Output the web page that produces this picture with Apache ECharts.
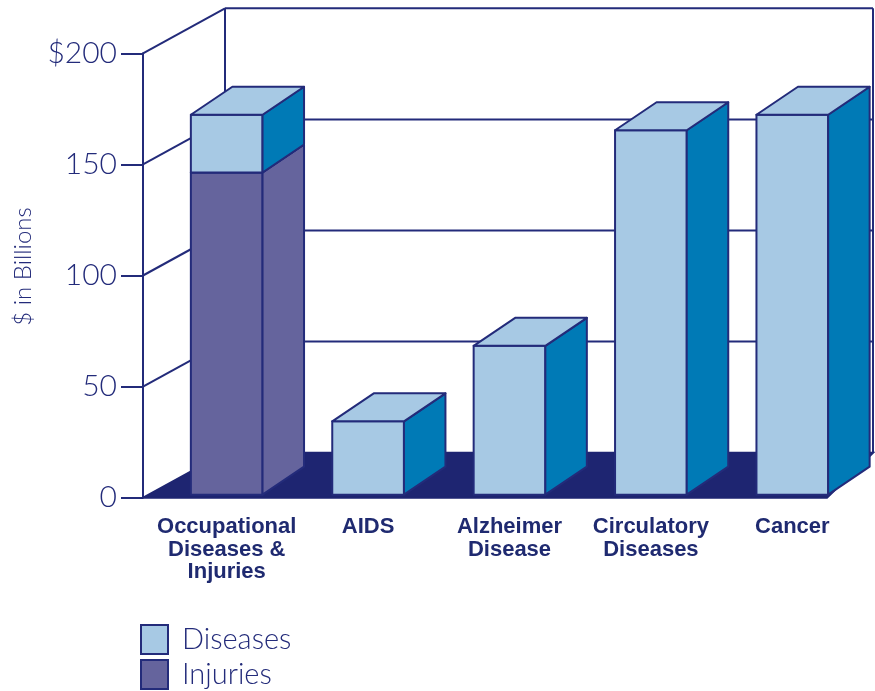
<!DOCTYPE html>
<html><head><meta charset="utf-8">
<script src="https://cdn.jsdelivr.net/npm/echarts@6/dist/echarts.min.js"></script>
<style>html,body{margin:0;padding:0;background:#fff}#c{width:875px;height:691px}</style>
</head><body><div id="c"></div>
<script>
// ---- data ----
const categories = ['Occupational\nDiseases &\nInjuries', 'AIDS', 'Alzheimer\nDisease', 'Circulatory\nDiseases', 'Cancer'];
const injuries = [145, 0, 0, 0, 0];
const diseases = [26, 33, 67, 164, 171];
const yTicks = [0, 50, 100, 150, 200];
const yTickLabels = ['0', '50', '100', '150', '$200'];
const seriesNames = ['Diseases', 'Injuries'];

// ---- styles ----
const NAVY = '#232b7a', FLOOR = '#1e2571', LIGHT = '#a7c9e4', SIDE = '#007ab6', PURPLE = '#65649d';
const DX = 41.5, DY = -28, LIFT = 3, WALL_DX = 82, WALL_DY = -45, AXIS_OFFSET = 13;

function makeBar(baseArr, front, side) {
  return function (params, api) {
    const i = api.value(0), v = api.value(1);
    if (!v) return;
    const base = baseArr[i];
    const p0 = api.coord([i, base]), p1 = api.coord([i, base + v]);
    const w = api.size([1, 0])[0] * 0.507;
    const xl = p0[0] - w / 2, xr = p0[0] + w / 2, yb = p0[1] - LIFT, yt = p1[1] - LIFT;
    const st = c => ({ fill: c, stroke: NAVY, lineWidth: 2, lineJoin: 'round' });
    return {
      type: 'group', children: [
        { type: 'polygon', shape: { points: [[xl, yt], [xr, yt], [xr, yb], [xl, yb]] }, style: st(front) },
        { type: 'polygon', shape: { points: [[xr, yt], [xr + DX, yt + DY], [xr + DX, yb + DY], [xr, yb]] }, style: st(side) },
        { type: 'polygon', shape: { points: [[xl, yt], [xl + DX, yt + DY], [xr + DX, yt + DY], [xr, yt]] }, style: st(front) }
      ]
    };
  };
}

function renderWalls(params, api) {
  const cs = params.coordSys;
  const fx = cs.x - AXIS_OFFSET;
  const bx = fx + WALL_DX;
  const bxr = cs.x + cs.width + 10;
  const y = v => api.coord([0, v])[1];
  const y0 = y(0);
  const ls = { stroke: NAVY, lineWidth: 2, fill: null };
  const children = [];
  children.push({ type: 'polygon', shape: { points: [[fx, y0], [bxr - 46, y0], [bxr, y0 + WALL_DY], [bx, y0 + WALL_DY]] },
    style: { fill: FLOOR, stroke: FLOOR, lineWidth: 2 } });
  yTicks.forEach(t => {
    if (t === 0) return;
    const yy = y(t);
    children.push({ type: 'line', shape: { x1: fx, y1: yy, x2: bx, y2: yy + WALL_DY }, style: ls });
    children.push({ type: 'line', shape: { x1: bx, y1: yy + WALL_DY, x2: bxr, y2: yy + WALL_DY }, style: ls });
  });
  const top = y(200) + WALL_DY;
  children.push({ type: 'line', shape: { x1: bx, y1: top, x2: bx, y2: y0 + WALL_DY }, style: ls });
  children.push({ type: 'line', shape: { x1: bxr, y1: top, x2: bxr, y2: y0 + WALL_DY }, style: ls });
  return { type: 'group', children };
}

const chart = echarts.init(document.getElementById('c'), null, { renderer: 'canvas' });
chart.setOption({
  animation: false,
  backgroundColor: '#fff',
  grid: { left: 156, top: 53.3, width: 707, bottom: 193.3, containLabel: false, outerBoundsMode: 'none' },
  legend: {
    orient: 'vertical', left: 140, top: 624, padding: 0, itemWidth: 27, itemHeight: 29, itemGap: 4, icon: 'rect',
    data: seriesNames,
    textStyle: { fontFamily: 'Lato', fontWeight: 300, fontSize: 29, color: NAVY, padding: [0, 0, 0, 9] }
  },
  xAxis: {
    type: 'category', data: categories,
    axisLine: { show: false }, axisTick: { show: false }, splitLine: { show: false },
    axisLabel: { interval: 0, margin: 18, fontFamily: 'Liberation Sans', fontWeight: 'bold', fontSize: 22, lineHeight: 22.5, color: '#1f2a70' }
  },
  yAxis: {
    type: 'value', min: 0, max: 200, interval: 50, offset: AXIS_OFFSET,
    name: '$ in Billions', nameLocation: 'middle', nameRotate: 90, nameGap: 108,
    nameTextStyle: { fontFamily: 'Lato', fontWeight: 300, fontSize: 24, color: NAVY, padding: [0, 0, 0, 18] },
    axisLine: { show: true, lineStyle: { color: NAVY, width: 2 } },
    axisTick: { show: true, length: 22, lineStyle: { color: NAVY, width: 2 } },
    splitLine: { show: false },
    axisLabel: { margin: 26, fontFamily: 'Lato', fontWeight: 300, fontSize: 30, color: NAVY,
      formatter: v => yTickLabels[yTicks.indexOf(v)] }
  },
  series: [
    { type: 'custom', name: 'walls', silent: true, renderItem: renderWalls, data: [[0, 0]], clip: false, z: 1 },
    { type: 'custom', name: 'Injuries', renderItem: makeBar(injuries.map(() => 0), PURPLE, PURPLE),
      itemStyle: { color: PURPLE, borderColor: NAVY, borderWidth: 2 },
      data: injuries.map((v, i) => [i, v]), encode: { x: 0, y: 1 }, clip: false, z: 2 },
    { type: 'custom', name: 'Diseases', renderItem: makeBar(injuries, LIGHT, SIDE),
      itemStyle: { color: LIGHT, borderColor: NAVY, borderWidth: 2 },
      data: diseases.map((v, i) => [i, v]), encode: { x: 0, y: 1 }, clip: false, z: 3 }
  ]
});
</script></body></html>
